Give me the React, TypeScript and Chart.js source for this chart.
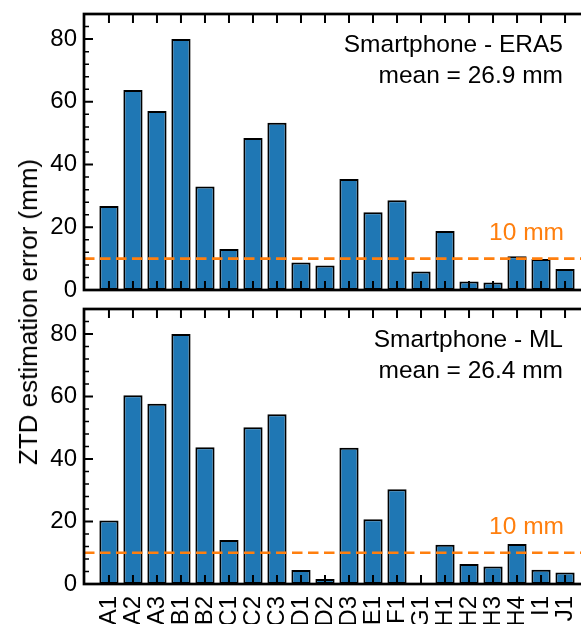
import { useEffect, useRef } from "react";
import { Chart, registerables } from "chart.js";

Chart.register(...registerables);

// Station identifiers along the shared x axis
const CATEGORIES = [
  "A1", "A2", "A3", "B1", "B2", "C1", "C2", "C3", "D1", "D2",
  "D3", "E1", "F1", "G1", "H1", "H2", "H3", "H4", "I1", "J1",
];

// ZTD estimation error (mm) per station
const ERA5_ERROR_MM = [
  26.8, 63.8, 57.1, 80.0, 33.0, 13.1, 48.5, 53.3, 8.8, 7.8,
  35.4, 24.8, 28.6, 5.9, 18.8, 2.7, 2.4, 10.8, 9.9, 6.7,
];
const ML_ERROR_MM = [
  20.3, 60.4, 57.7, 80.0, 43.8, 14.1, 50.2, 54.3, 4.5, 1.6,
  43.6, 20.7, 30.3, 0.3, 12.6, 6.4, 5.6, 12.8, 4.6, 3.7,
];

const THRESHOLD_MM = 10;
const Y_MAX = 88;
const Y_MAJOR_TICKS = [0, 20, 40, 60, 80];
const Y_MINOR_STEP = 4;
const X_MIN = -1.04;
const X_MAX = 20.04;

const FONT = '"Liberation Sans", Arial, Helvetica, sans-serif';
const BAR_BLUE = "#1f77b4";
const ORANGE = "#ff7f0e";

function panelDecor(title: string, meanText: string) {
  return {
    id: "panelDecor",
    afterDatasetsDraw(chart: any) {
      const { ctx, chartArea: a, scales } = chart;
      const xs = scales.x;
      const ys = scales.y;
      ctx.save();

      // threshold line
      const ty = ys.getPixelForValue(THRESHOLD_MM);
      ctx.strokeStyle = ORANGE;
      ctx.lineWidth = 2.7;
      ctx.setLineDash([10.5, 5.5]);
      ctx.beginPath();
      ctx.moveTo(a.left, ty);
      ctx.lineTo(a.right, ty);
      ctx.stroke();
      ctx.setLineDash([]);

      // annotations
      ctx.font = `24.5px ${FONT}`;
      ctx.textAlign = "right";
      ctx.textBaseline = "alphabetic";
      ctx.fillStyle = ORANGE;
      ctx.fillText(`${THRESHOLD_MM} mm`, a.right - 26, ty - 19);
      ctx.fillStyle = "#000";
      ctx.fillText(title, a.right - 27, a.top + 38);
      ctx.fillText(meanText, a.right - 27, a.top + 69);

      // inward tick marks
      ctx.strokeStyle = "#000";
      ctx.lineWidth = 1.5;
      for (let v = 0; v <= Y_MAX; v += Y_MINOR_STEP) {
        if (Y_MAJOR_TICKS.includes(v)) continue;
        const py = ys.getPixelForValue(v);
        ctx.beginPath();
        ctx.moveTo(a.left, py);
        ctx.lineTo(a.left + 5, py);
        ctx.moveTo(a.right, py);
        ctx.lineTo(a.right - 5, py);
        ctx.stroke();
      }
      ctx.lineWidth = 2;
      for (const v of Y_MAJOR_TICKS) {
        const py = ys.getPixelForValue(v);
        ctx.beginPath();
        ctx.moveTo(a.left, py);
        ctx.lineTo(a.left + 9, py);
        ctx.moveTo(a.right, py);
        ctx.lineTo(a.right - 9, py);
        ctx.stroke();
      }
      CATEGORIES.forEach((_, i) => {
        const px = xs.getPixelForValue(i);
        ctx.beginPath();
        ctx.moveTo(px, a.top);
        ctx.lineTo(px, a.top + 9);
        ctx.moveTo(px, a.bottom);
        ctx.lineTo(px, a.bottom - 9);
        ctx.stroke();
      });

      // frame
      ctx.lineWidth = 2.7;
      ctx.strokeRect(a.left, a.top, a.right - a.left, a.bottom - a.top);
      ctx.restore();
    },
  };
}

type PanelProps = {
  values: number[];
  title: string;
  meanText: string;
  showLabels: boolean;
  top: number;
  height: number;
  padTop: number;
  padBottom: number;
};

function Panel({ values, title, meanText, showLabels, top, height, padTop, padBottom }: PanelProps) {
  const ref = useRef<HTMLCanvasElement | null>(null);

  useEffect(() => {
    if (!ref.current) return;
    const tickFont = { family: FONT, size: 24 };
    const chart = new Chart(ref.current, {
      type: "bar",
      data: {
        datasets: [
          {
            data: values.map((v, i) => ({ x: i, y: v })),
            backgroundColor: BAR_BLUE,
            borderColor: "#000",
            borderWidth: 2,
            borderSkipped: false,
            barPercentage: 0.8,
            categoryPercentage: 1,
          },
        ],
      },
      options: {
        animation: false,
        responsive: false,
        maintainAspectRatio: false,
        layout: { padding: { top: padTop, right: 10, bottom: padBottom, left: 0 } },
        plugins: { legend: { display: false }, tooltip: { enabled: false } },
        scales: {
          x: {
            type: "linear",
            min: X_MIN,
            max: X_MAX,
            offset: false,
            display: showLabels,
            grid: { display: false, drawTicks: false },
            border: { display: false },
            afterBuildTicks: (s: any) => {
              s.ticks = CATEGORIES.map((_, i) => ({ value: i }));
            },
            afterFit: (s: any) => {
              s.height = showLabels ? 40 : 0;
              s.paddingLeft = 0;
              s.paddingRight = 0;
            },
            ticks: {
              autoSkip: false,
              minRotation: 90,
              maxRotation: 90,
              padding: 12,
              color: "#000",
              font: tickFont,
              callback: (v: any) => CATEGORIES[v] ?? "",
            },
          },
          y: {
            min: 0,
            max: Y_MAX,
            grid: { display: false, drawTicks: false },
            border: { display: false },
            afterFit: (s: any) => {
              s.width = 84;
              s.paddingTop = 0;
              s.paddingBottom = 0;
            },
            ticks: {
              stepSize: 20,
              includeBounds: false,
              padding: 7,
              color: "#000",
              font: tickFont,
            },
          },
        },
      } as any,
      plugins: [panelDecor(title, meanText)],
    });
    return () => chart.destroy();
  }, [values, title, meanText, showLabels, padTop, padBottom]);

  return (
    <canvas
      ref={ref}
      width={600}
      height={height}
      style={{ position: "absolute", left: 0, top, width: 600, height }}
    />
  );
}

export default function App() {
  return (
    <div
      style={{
        position: "fixed",
        left: 0,
        top: 0,
        width: 581,
        height: 624,
        overflow: "hidden",
        background: "#fff",
      }}
    >
      <Panel
        values={ERA5_ERROR_MM}
        title="Smartphone - ERA5"
        meanText="mean = 26.9 mm"
        showLabels={false}
        top={0}
        height={300}
        padTop={14}
        padBottom={10}
      />
      <Panel
        values={ML_ERROR_MM}
        title="Smartphone - ML"
        meanText="mean = 26.4 mm"
        showLabels={true}
        top={300}
        height={324}
        padTop={9}
        padBottom={0}
      />
      <div
        style={{
          position: "absolute",
          left: 27.5,
          top: 312,
          transform: "translate(-50%, -50%) rotate(-90deg)",
          font: `26px ${FONT}`,
          lineHeight: 1,
          whiteSpace: "nowrap",
          color: "#000",
        }}
      >
        ZTD estimation error (mm)
      </div>
    </div>
  );
}
